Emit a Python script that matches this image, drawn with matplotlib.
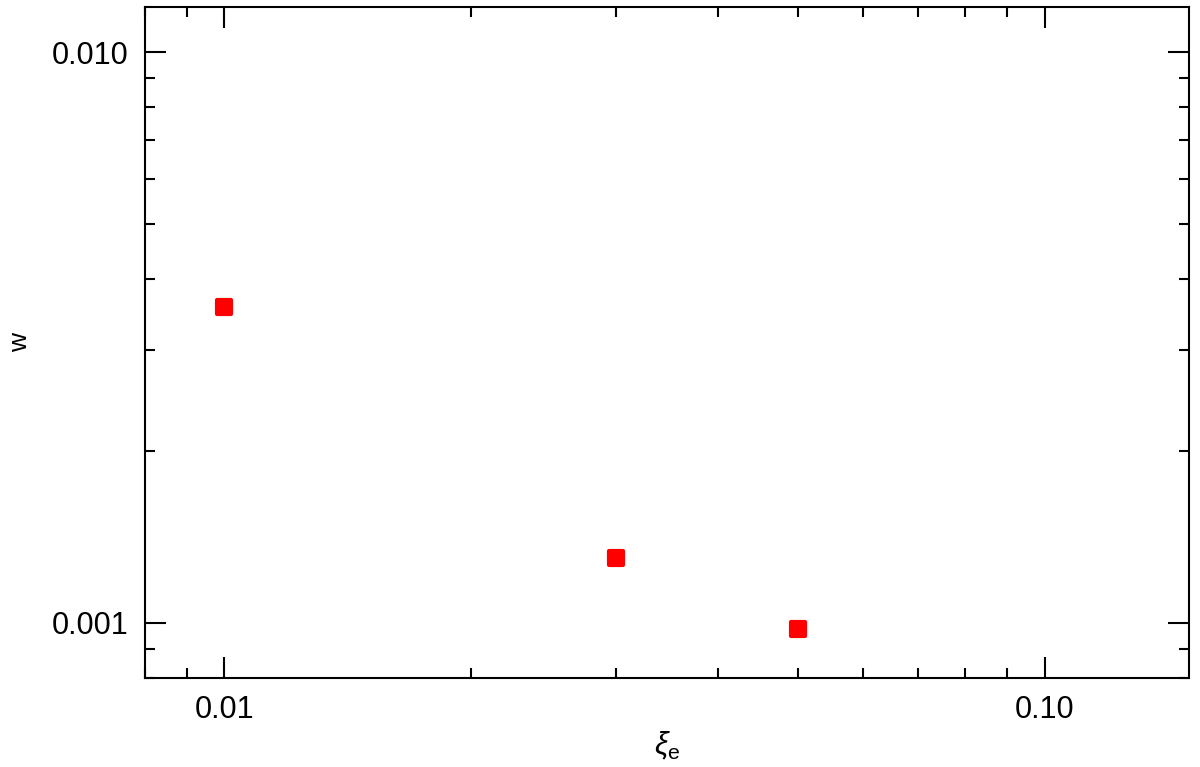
import numpy as np
import matplotlib.pyplot as plt
from matplotlib.markers import MarkerStyle

# w versus xi_e, log-log scatter

xi_e = [0.010, 0.030, 0.050]
w = [0.00358, 0.00130, 0.000976]

xticks = [0.01, 0.10]
xticklabels = ["0.01", "0.10"]
yticks = [0.001, 0.010]
yticklabels = ["0.001", "0.010"]

plt.rcParams['font.family'] = ['Liberation Sans', 'DejaVu Sans']
plt.rcParams['mathtext.fontset'] = 'custom'
plt.rcParams['mathtext.rm'] = 'Liberation Sans'
plt.rcParams['mathtext.it'] = 'Liberation Sans:italic'


def main():
    fig = plt.figure(figsize=(12, 7.67), dpi=100)
    ax = fig.add_axes([0.1208, 0.116, 0.8703, 0.875])
    # square marker with rounded corners
    sq = MarkerStyle("s", joinstyle="round")
    ax.plot(xi_e, w, linestyle="none", marker=sq, markersize=10.5,
            color="#ff0000", markeredgewidth=3, markeredgecolor="#ff0000",
            markerfacecolor="#ff0000")
    ax.set_xscale("log")
    ax.set_yscale("log")
    ax.set_xlim(0.008, 0.150)
    ax.set_ylim(0.0008, 0.0120)
    ax.set_xticks(xticks)
    ax.set_xticklabels(xticklabels)
    ax.set_yticks(yticks)
    ax.set_yticklabels(yticklabels)
    ax.tick_params(which="both", direction="in", top=True, right=True,
                   width=1.5, labelsize=22, color="black")
    ax.tick_params(which="major", length=15, pad=12)
    ax.tick_params(which="minor", length=7.5)
    for s in ax.spines.values():
        s.set_linewidth(1.5)
    ax.set_xlabel(r"$\xi_{\rm e}$", fontsize=22, labelpad=4)
    ax.set_ylabel("w", fontsize=19, labelpad=14)
    fig.savefig("out.png", dpi=100)


if __name__ == "__main__":
    main()
